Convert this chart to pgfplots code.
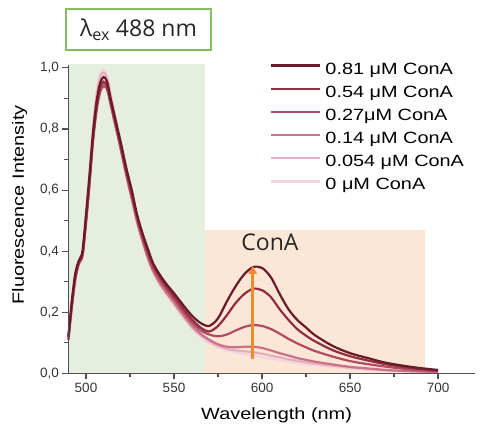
\documentclass[border=0pt]{standalone}
\usepackage{pgfplots}
\pgfplotsset{compat=1.18}
\usepackage{pgfplotstable}
\usepackage{fontspec}
\usetikzlibrary{arrows.meta}
\setmainfont{Liberation Sans}
\newfontfamily\widefont[FakeStretch=1.22]{Liberation Sans}
\newfontfamily\osans{Open Sans}

\definecolor{c81}{HTML}{6B1A2A}
\definecolor{c54}{HTML}{922E43}
\definecolor{c27}{HTML}{B24A63}
\definecolor{c14}{HTML}{CB7289}
\definecolor{c054}{HTML}{E3AFBC}
\definecolor{c0}{HTML}{F3D6DD}
\definecolor{greenbg}{HTML}{E6EEDF}
\definecolor{orangebg}{HTML}{FCE6D6}
\definecolor{arrowor}{HTML}{F08A2C}
\definecolor{boxgreen}{HTML}{86BC64}
\definecolor{axisgray}{HTML}{505050}

% emission spectra
\pgfplotstableread{
x    c81   c54   c27   c14   c054  c0
490  0.12  0.12  0.11  0.11  0.11  0.11
492  0.24  0.23  0.22  0.22  0.23  0.23
494  0.33  0.32  0.31  0.31  0.32  0.32
496  0.37  0.365 0.36  0.36  0.365 0.365
498  0.40  0.39  0.385 0.385 0.39  0.39
500  0.52  0.50  0.49  0.50  0.51  0.52
502  0.65  0.63  0.62  0.63  0.65  0.66
504  0.79  0.77  0.76  0.77  0.80  0.81
506  0.89  0.87  0.86  0.87  0.91  0.92
508  0.95  0.935 0.92  0.93  0.97  0.98
510  0.97  0.955 0.94  0.95  0.985 0.995
512  0.955 0.94  0.93  0.935 0.965 0.975
514  0.90  0.89  0.88  0.885 0.91  0.92
516  0.85  0.84  0.83  0.83  0.85  0.86
518  0.80  0.79  0.78  0.78  0.79  0.80
520  0.75  0.74  0.73  0.725 0.735 0.74
523  0.67  0.66  0.65  0.645 0.65  0.655
526  0.60  0.59  0.58  0.57  0.575 0.575
529  0.52  0.515 0.505 0.495 0.50  0.50
532  0.46  0.455 0.445 0.435 0.435 0.435
535  0.41  0.40  0.39  0.38  0.38  0.38
538  0.362 0.356 0.346 0.336 0.335 0.333
542  0.322 0.316 0.306 0.296 0.292 0.289
546  0.29  0.283 0.273 0.263 0.258 0.255
550  0.262 0.253 0.243 0.233 0.227 0.223
555  0.225 0.214 0.204 0.194 0.188 0.184
560  0.19  0.178 0.168 0.158 0.152 0.148
565  0.165 0.15  0.141 0.13  0.125 0.12
570  0.155 0.137 0.127 0.11  0.105 0.10
575  0.18  0.155 0.121 0.095 0.09  0.085
580  0.235 0.19  0.127 0.087 0.08  0.075
585  0.285 0.23  0.14  0.085 0.075 0.068
590  0.325 0.26  0.152 0.087 0.072 0.063
595  0.348 0.277 0.158 0.087 0.069 0.058
600  0.345 0.272 0.155 0.083 0.064 0.053
605  0.315 0.25  0.145 0.075 0.058 0.048
610  0.26  0.21  0.13  0.066 0.052 0.043
615  0.21  0.175 0.113 0.058 0.046 0.038
620  0.175 0.145 0.098 0.05  0.041 0.034
625  0.15  0.123 0.085 0.044 0.036 0.03
630  0.125 0.105 0.073 0.038 0.032 0.027
640  0.09  0.076 0.055 0.029 0.025 0.021
650  0.066 0.056 0.04  0.021 0.019 0.016
660  0.05  0.042 0.03  0.016 0.014 0.012
670  0.035 0.03  0.022 0.011 0.01  0.009
680  0.025 0.021 0.015 0.008 0.007 0.006
690  0.017 0.014 0.01  0.006 0.005 0.004
700  0.011 0.009 0.007 0.004 0.003 0.003
}\spectra

\begin{document}
\begin{tikzpicture}
\path[use as bounding box] (-68.4pt,-51.7pt) rectangle (411.6pt,373.3pt);
\begin{axis}[
  at={(0,0)}, anchor=south west,
  scale only axis, width=406.6pt, height=308.4pt,
  xmin=490, xmax=721, ymin=0, ymax=1.01,
  axis lines=left, axis on top, clip=false,
  axis line style={-, axisgray, line width=1.2pt},
  tick style={axisgray, line width=1.1pt},
  tick align=outside,
  major tick length=6pt, minor tick length=4pt,
  xtick={500,550,600,650,700}, minor xtick={525,575,625,675},
  ytick={0,0.2,0.4,0.6,0.8,1.0}, minor ytick={0.1,0.3,0.5,0.7,0.9},
  /pgf/number format/assume math mode=true,
  yticklabel style={/pgf/number format/.cd, use comma, fixed, fixed zerofill, precision=1},
  xticklabel style={/pgf/number format/1000 sep={}},
  ticklabel style={font=\fontsize{13.5}{15}\selectfont, text=black!80},
  xlabel={Wavelength (nm)},
  ylabel={Fluorescence Intensity},
  xlabel style={font=\widefont\fontsize{16.3}{18}\selectfont, at={(axis description cs:0.512,0)}, anchor=base, yshift=-46.7pt},
  ylabel style={font=\widefont\fontsize{16.3}{18}\selectfont, at={(axis description cs:-0.1092,0.546)}, anchor=base},
  legend style={draw=none, fill=none, at={(axis description cs:0.495,1.0075)}, anchor=north west,
    inner sep=0pt, row sep=8.1pt, column sep=4pt,
    font=\widefont\fontsize{16.3}{18}\selectfont,
    nodes={inner sep=0pt, text height=11.5pt, text depth=3.5pt}},
  legend cell align=left,
  reverse legend,
  legend image code/.code={\draw[#1, line width=2.6pt] (0pt,4.5pt) -- (49pt,4.5pt);},
  every axis plot/.append style={line width=2.2pt, smooth, no markers},
]
\fill[greenbg] (axis cs:490,0) rectangle (axis cs:567.5,1.012);
\fill[orangebg] (axis cs:567.5,0) rectangle (axis cs:692.5,0.47);

\addplot[c0] table[x=x, y=c0] {\spectra};
\addlegendentry{0 μM ConA}
\addplot[c054] table[x=x, y=c054] {\spectra};
\addlegendentry{0.054 μM ConA}
\addplot[c14] table[x=x, y=c14] {\spectra};
\addlegendentry{0.14 μM ConA}
\addplot[c27] table[x=x, y=c27] {\spectra};
\addlegendentry{0.27μM ConA}
\addplot[c54] table[x=x, y=c54] {\spectra};
\addlegendentry{0.54 μM ConA}
\addplot[c81] table[x=x, y=c81] {\spectra};
\addlegendentry{0.81 μM ConA}

\draw[-{Triangle[width=8pt,length=8pt]}, line width=2.6pt, arrowor]
  (axis cs:594.7,0.048) -- (axis cs:594.7,0.352);
\node[font=\osans\fontsize{23}{26}\selectfont, text=black!85] at (axis cs:604.5,0.43) {ConA};
\end{axis}
\node[draw=boxgreen, line width=1.4pt, minimum width=145pt, minimum height=41pt,
  inner sep=0pt, font=\osans\fontsize{23}{26}\selectfont, text=black!85]
  at (70.1pt,343.8pt) {λ\textsubscript{ex} 488 nm};
\end{tikzpicture}
\end{document}
